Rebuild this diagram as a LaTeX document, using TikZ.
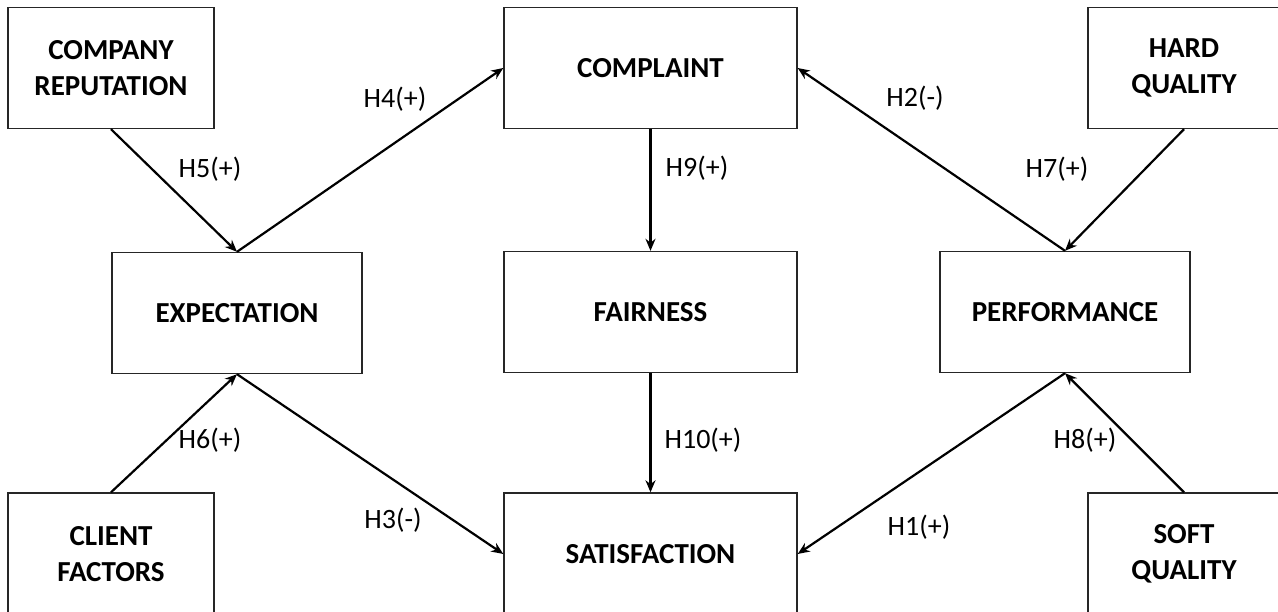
\documentclass[tikz,border=0pt]{standalone}
\usepackage{fontspec}
\setmainfont{Carlito}
\usetikzlibrary{arrows.meta}
\begin{document}
\begin{tikzpicture}[x=1pt,y=-1pt,
  box/.style={draw=black!85,line width=1.4pt,fill=white,align=center,inner sep=0pt,
    font=\fontsize{29}{36}\selectfont\bfseries},
  arr/.style={line width=2.2pt,-{Stealth[length=12pt,width=10pt]}},
  lbl/.style={font=\fontsize{28}{30}\selectfont,inner sep=0pt}]
\useasboundingbox (0,0) rectangle (1278,612);
\clip (0,0) rectangle (1278,612);
\fill[white] (0,0) rectangle (1278,612);
\node[box,minimum width=206pt,minimum height=121pt] (rep) at (111,68) {COMPANY\\REPUTATION};
\node[box,minimum width=293pt,minimum height=121pt] (comp) at (650.5,68) {COMPLAINT};
\node[box,minimum width=192pt,minimum height=121pt] (hard) at (1184,68) {HARD\\QUALITY};
\node[box,minimum width=250pt,minimum height=121pt] (exp) at (237,313) {EXPECTATION};
\node[box,minimum width=293pt,minimum height=121pt] (fair) at (650.5,312) {FAIRNESS};
\node[box,minimum width=250pt,minimum height=121pt] (perf) at (1065,312) {PERFORMANCE};
\node[box,minimum width=206pt,minimum height=122pt] (client) at (111,554) {CLIENT\\FACTORS};
\node[box,minimum width=293pt,minimum height=122pt] (sat) at (650.5,554) {SATISFACTION};
\node[box,minimum width=192pt,minimum height=122pt] (soft) at (1184,554) {SOFT\\QUALITY};

\draw[arr] (rep.south) -- (exp.north);
\draw[arr] (exp.north) -- (comp.west);
\draw[arr] (hard.south) -- (perf.north);
\draw[arr] (perf.north) -- (comp.east);
\draw[arr] (comp.south) -- (fair.north);
\draw[arr] (fair.south) -- (sat.north);
\draw[arr] (client.north) -- (exp.south);
\draw[arr] (exp.south) -- (sat.west);
\draw[arr] (perf.south) -- (sat.east);
\draw[arr] (soft.north) -- (perf.south);

\node[lbl] (l5) at (210,169) {H5(+)};
\node[lbl] (l4) at (395,99) {H4(+)};
\node[lbl] (l2) at (915,98) {H2(-)};
\node[lbl] (l7) at (1057,169) {H7(+)};
\node[lbl] (l9) at (697,168) {H9(+)};
\node[lbl] (l10) at (703,440) {H10(+)};
\node[lbl] (l6) at (210,440) {H6(+)};
\node[lbl] (l3) at (393,520) {H3(-)};
\node[lbl] (l1) at (919,527) {H1(+)};
\node[lbl] (l8) at (1085,440) {H8(+)};
\end{tikzpicture}
\end{document}
